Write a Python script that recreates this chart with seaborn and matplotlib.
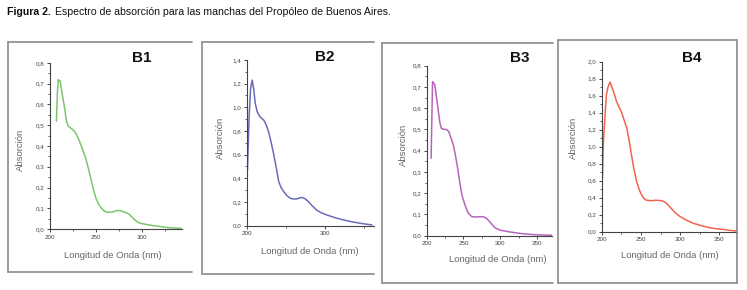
import matplotlib
matplotlib.use("Agg")
import matplotlib.pyplot as plt
from matplotlib.lines import Line2D
from matplotlib.ticker import FuncFormatter, MultipleLocator, FixedLocator
import seaborn as sns
import pandas as pd

sns.set_theme(style="ticks")
plt.rcParams['font.family'] = ['Liberation Sans', 'DejaVu Sans']

# ---------------- data ----------------
wl_b1 = [207, 208, 209, 210, 211, 213, 216, 218, 220, 223, 226, 229, 232, 235,
         239, 242, 245, 248, 250, 253, 256, 259, 262, 268, 274, 278, 282, 286,
         290, 294, 298, 305, 310, 320, 330, 343]
ab_b1 = [0.52, 0.65, 0.72, 0.715, 0.715, 0.66, 0.58, 0.52, 0.495, 0.485, 0.475,
         0.455, 0.425, 0.39, 0.34, 0.29, 0.235, 0.18, 0.15, 0.12, 0.10, 0.088,
         0.08, 0.082, 0.09, 0.087, 0.08, 0.072, 0.055, 0.038, 0.028, 0.022,
         0.018, 0.012, 0.006, 0.003]

wl_b2 = [201, 203, 205, 207, 209, 211, 213.5, 217, 222, 225, 228, 231, 234.6,
         238, 241, 244, 247, 251, 255.7, 260, 264, 267, 270.5, 275, 279, 284,
         289.5, 295, 302, 312, 323, 334, 344, 352, 360]
ab_b2 = [0.47, 0.91, 1.16, 1.23, 1.15, 1.03, 0.96, 0.92, 0.89, 0.85, 0.79, 0.71,
         0.60, 0.48, 0.37, 0.32, 0.29, 0.255, 0.23, 0.224, 0.225, 0.232, 0.237,
         0.225, 0.20, 0.165, 0.13, 0.108, 0.09, 0.068, 0.048, 0.032, 0.02,
         0.012, 0.005]

wl_b3 = [206, 207, 208, 209, 211, 213, 216, 218, 220, 224, 227, 230, 232, 236,
         239, 242, 245, 248, 252, 256, 261, 267, 273, 278, 282, 287, 293, 300,
         311, 322, 334, 350, 370]
ab_b3 = [0.364, 0.55, 0.725, 0.72, 0.71, 0.66, 0.58, 0.53, 0.505, 0.50, 0.50,
         0.49, 0.47, 0.43, 0.38, 0.32, 0.25, 0.19, 0.145, 0.11, 0.09, 0.088,
         0.09, 0.088, 0.08, 0.06, 0.037, 0.026, 0.019, 0.013, 0.008, 0.004,
         0.002]

wl_b4 = [201, 202, 204, 206, 208, 210.6, 213, 215, 219, 222, 225, 228, 232,
         235, 238, 241, 244.5, 248, 251, 254, 257, 263, 270, 276, 280.5, 285,
         289, 294, 299.6, 308, 316.5, 327, 337.7, 346, 354.7, 363, 372]
ab_b4 = [0.63, 1.02, 1.33, 1.61, 1.70, 1.76, 1.70, 1.65, 1.53, 1.47, 1.41, 1.33,
         1.22, 1.07, 0.90, 0.74, 0.59, 0.49, 0.43, 0.39, 0.37, 0.365, 0.37,
         0.365, 0.35, 0.31, 0.27, 0.22, 0.18, 0.135, 0.10, 0.07, 0.047, 0.035,
         0.027, 0.016, 0.008]

panel_names = ["B1", "B2", "B3", "B4"]
colors = ["#7cc56e", "#6b6bb8", "#b863be", "#f0644e"]
y_max = [0.8, 1.4, 0.8, 2.0]
y_step = [0.1, 0.2, 0.1, 0.2]
x_max = [344, 362, 370, 372]
x_major = [[200, 250, 300], [200, 300], [200, 250, 300, 350], [200, 250, 300, 350]]
x_minor = [[225, 275, 325], [250, 350], [225, 275, 325], [225, 275, 325]]
title_text = "Figura 2."
subtitle_text = "Espectro de absorción para las manchas del Propóleo de Buenos Aires."
xlabel_text = "Longitud de Onda (nm)"
ylabel_text = "Absorción"

series = [(wl_b1, ab_b1), (wl_b2, ab_b2), (wl_b3, ab_b3), (wl_b4, ab_b4)]

# ---------------- layout (pixels) ----------------
W, H = 747, 290
fig = plt.figure(figsize=(W / 100, H / 100), dpi=100)
fig.patch.set_facecolor("white")

def fx(x):
    return x / W

def fy(y):
    return 1 - y / H

# axes boxes: left, right, top, bottom pixel positions
ax_px = [(50, 182, 63, 229), (246.7, 373.5, 60, 225.5),
         (426.7, 551.7, 65.7, 235.7), (601.7, 736.7, 61.7, 231.7)]
# frames: left, right, top, bottom, draw right side
frames = [(8, 192, 42, 272, False), (202, 374, 42, 274, False),
          (382, 553, 43, 283, False), (558, 737, 40, 283, True)]
title_pos = [(142, 58), (325, 57), (520, 58), (692, 58)]
ylab_pos = [(20, 150), (220, 138), (403, 145), (573, 138)]
xlab_pos = [(113, 255), (310, 252), (498, 260), (670, 255)]

comma = FuncFormatter(lambda v, p: f"{v:.1f}".replace('.', ','))
frame_col = "#8a8a8a"

for i in range(4):
    l, r, t, b = ax_px[i]
    ax = fig.add_axes([fx(l), fy(b), (r - l) / W, (b - t) / H])
    ax.set_facecolor("none")
    wl, ab = series[i]
    df = pd.DataFrame({"wl": wl, "ab": ab})
    sns.lineplot(data=df, x="wl", y="ab", ax=ax, color=colors[i], linewidth=1.1)
    ax.set_xlim(200, x_max[i])
    ax.set_ylim(0, y_max[i])
    ax.set_xlabel("")
    ax.set_ylabel("")
    for s in ["top", "right"]:
        ax.spines[s].set_visible(False)
    for s in ["left", "bottom"]:
        ax.spines[s].set_color("#444444")
        ax.spines[s].set_linewidth(0.8)
    ax.yaxis.set_major_locator(MultipleLocator(y_step[i]))
    ax.yaxis.set_minor_locator(MultipleLocator(y_step[i] / 2))
    ax.yaxis.set_major_formatter(comma)
    ax.xaxis.set_major_locator(FixedLocator(x_major[i]))
    ax.xaxis.set_minor_locator(FixedLocator(x_minor[i]))
    ax.tick_params(which="major", length=2.5, width=0.7, color="#444444",
                   labelsize=4.5, labelcolor="#444444", pad=1.5, direction="out")
    ax.tick_params(which="minor", length=1.5, width=0.6, color="#444444",
                   direction="out")

    tx, ty = title_pos[i]
    fig.text(fx(tx), fy(ty), panel_names[i], ha="center", va="center",
             fontsize=11, fontweight="bold", color="#111111")
    yx, yy = ylab_pos[i]
    fig.text(fx(yx), fy(yy), ylabel_text, ha="center", va="center",
             rotation=90, fontsize=6.8, color="#666666")
    xx, xy = xlab_pos[i]
    fig.text(fx(xx), fy(xy), xlabel_text, ha="center", va="center",
             fontsize=6.8, color="#666666")

    fl, fr, ft, fb, right = frames[i]
    fig.add_artist(Line2D([fx(fl), fx(fl)], [fy(ft), fy(fb)], color=frame_col, lw=1.2))
    fig.add_artist(Line2D([fx(fl), fx(fr)], [fy(ft), fy(ft)], color=frame_col, lw=1.2))
    fig.add_artist(Line2D([fx(fl), fx(fr)], [fy(fb), fy(fb)], color=frame_col, lw=1.2))
    if right:
        fig.add_artist(Line2D([fx(fr), fx(fr)], [fy(ft), fy(fb)], color=frame_col, lw=1.2))

fig.text(fx(7), fy(12), title_text, ha="left", va="center", fontsize=7.6,
         fontweight="bold", family=["Liberation Sans Narrow", "Liberation Sans", "DejaVu Sans"],
         color="#111111")
fig.text(fx(55), fy(12), subtitle_text, ha="left", va="center", fontsize=7.6,
         family=["Liberation Sans Narrow", "Liberation Sans", "DejaVu Sans"],
         color="#111111")

fig.savefig("out.png", dpi=100, facecolor="white")
